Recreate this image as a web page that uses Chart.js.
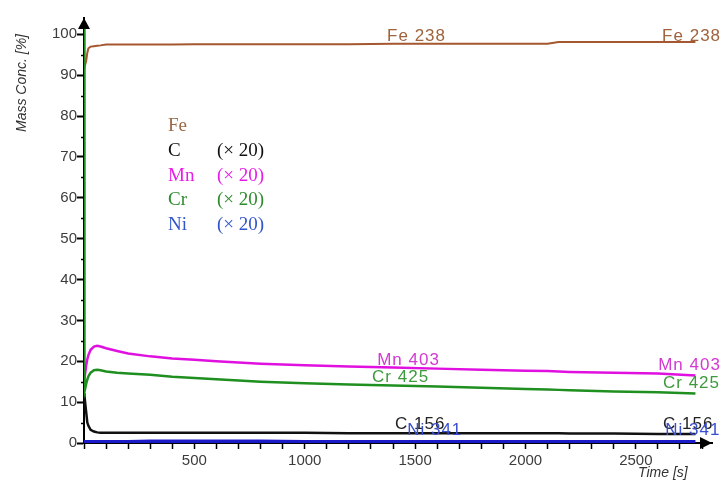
<!DOCTYPE html>
<html>
<head>
<meta charset="utf-8">
<script src="https://cdn.jsdelivr.net/npm/chart.js@4.4.1/dist/chart.umd.min.js"></script>
<style>
  html, body { margin: 0; padding: 0; background: #fff; }
  #wrap { width: 726px; height: 481px; }
</style>
</head>
<body>
<div id="wrap"><canvas id="depth_profile"></canvas></div>
<script>
// Sputter time [s]
const seconds = [0, 2, 5, 10, 15, 20, 30, 45, 60, 75, 100, 150, 200, 300, 400, 500, 600, 800, 1000, 1200, 1400, 1600, 1800, 2000, 2100, 2150, 2200, 2400, 2600, 2770]

// Mass concentration [%], C / Mn / Cr / Ni already multiplied by 20
const fe = [91.8, 92.0, 92.5, 93.5, 95.5, 96.6, 97.0, 97.1, 97.2, 97.3, 97.5, 97.5, 97.5, 97.5, 97.5, 97.6, 97.6, 97.6, 97.6, 97.6, 97.7, 97.7, 97.7, 97.7, 97.7, 98.1, 98.1, 98.1, 98.1, 98.1]
const c = [12.2, 11.5, 10.0, 7.5, 5.0, 4.2, 3.2, 2.8, 2.6, 2.5, 2.5, 2.5, 2.5, 2.5, 2.5, 2.5, 2.5, 2.5, 2.5, 2.4, 2.4, 2.4, 2.4, 2.4, 2.4, 2.4, 2.3, 2.3, 2.2, 2.2]
const mn = [14.8, 15.5, 17.0, 19.0, 20.5, 21.5, 22.8, 23.6, 23.8, 23.6, 23.2, 22.5, 21.9, 21.2, 20.7, 20.4, 20.0, 19.4, 19.0, 18.7, 18.5, 18.2, 17.9, 17.7, 17.6, 17.5, 17.4, 17.2, 17.0, 16.5]
const cr = [103, 12.5, 13.2, 14.5, 15.5, 16.3, 17.2, 17.8, 17.9, 17.8, 17.5, 17.2, 17.0, 16.7, 16.2, 15.9, 15.6, 15.0, 14.6, 14.3, 14.1, 13.8, 13.5, 13.2, 13.1, 13.0, 12.9, 12.6, 12.4, 12.1]
const ni = [0.3, 0.3, 0.3, 0.3, 0.3, 0.3, 0.3, 0.3, 0.3, 0.3, 0.3, 0.3, 0.3, 0.4, 0.4, 0.4, 0.4, 0.4, 0.3, 0.3, 0.3, 0.3, 0.3, 0.3, 0.3, 0.3, 0.3, 0.3, 0.3, 0.3]

const elements = ['Fe', 'C', 'Mn', 'Cr', 'Ni']
const factors = ['', '(× 20)', '(× 20)', '(× 20)', '(× 20)']
const lineNames = ['Fe 238', 'C 156', 'Mn 403', 'Cr 425', 'Ni 341']

const series = [fe, c, mn, cr, ni]
const lineColors = ['#a5572f', '#111111', '#e010e0', '#1f8f1f', '#1a1ac8']
const lineWidths = [2, 2.5, 2.5, 2.5, 3.5]
const legendColors = ['#9b6a45', '#111111', '#e81ce8', '#2e8b2e', '#3355cc']
const nameColors = ['#a0633d', '#222222', '#d23ad2', '#3d9a3d', '#3a4fd0']

// where each line name sits, in axis units (time, concentration of the text baseline)
const namePlaces = [
    [[1373, 98.4], [2619, 98.4]],
    [[1409, 3.4], [2623, 3.4]],
    [[1328, 19.1], [2601, 17.9]],
    [[1305, 14.9], [2623, 13.5]],
    [[1464, 2.0], [2633, 2.0]]
]

Chart.defaults.font.family = "'Liberation Sans', Arial, sans-serif"

const datasets = series.map((values, i) => ({
    label: elements[i],
    data: values.map((v, k) => ({ x: seconds[k], y: v })),
    borderColor: lineColors[i],
    borderWidth: lineWidths[i],
    pointRadius: 0,
    tension: 0,
    fill: false
}))
// first dataset is painted last, so Ni ends up on top of the time axis
datasets.reverse()

const decorations = {
    id: 'decorations',
    afterDraw(chart) {
        const { ctx, chartArea: area, scales } = chart
        const x = scales.x
        const y = scales.y
        ctx.save()

        // minor ticks on the concentration axis
        ctx.strokeStyle = '#000'
        ctx.lineWidth = 1.5
        for (let v = 5; v < 100; v += 10) {
            const py = Math.round(y.getPixelForValue(v)) + 0.5
            ctx.beginPath()
            ctx.moveTo(area.left - 3, py)
            ctx.lineTo(area.left, py)
            ctx.stroke()
        }

        // arrow heads
        ctx.fillStyle = '#000'
        ctx.beginPath()
        ctx.moveTo(area.left, area.top)
        ctx.lineTo(area.left - 6, area.top + 11)
        ctx.lineTo(area.left + 6, area.top + 11)
        ctx.closePath()
        ctx.fill()
        ctx.beginPath()
        ctx.moveTo(area.right, area.bottom)
        ctx.lineTo(area.right - 12, area.bottom - 6)
        ctx.lineTo(area.right - 12, area.bottom + 6)
        ctx.closePath()
        ctx.fill()

        // axis titles
        ctx.fillStyle = '#333'
        ctx.font = "italic 14px 'Liberation Sans', Arial, sans-serif"
        ctx.textAlign = 'center'
        ctx.textBaseline = 'middle'
        ctx.save()
        ctx.translate(22, 83)
        ctx.rotate(-Math.PI / 2)
        ctx.fillText('Mass Conc. [%]', 0, 0)
        ctx.restore()
        ctx.textAlign = 'left'
        ctx.fillText('Time [s]', 638, 473)

        // line names along the traces
        ctx.font = "17px 'Liberation Sans', Arial, sans-serif"
        ctx.letterSpacing = '1px'
        ctx.textBaseline = 'alphabetic'
        namePlaces.forEach((places, i) => {
            ctx.fillStyle = nameColors[i]
            places.forEach(([t, v]) => {
                ctx.fillText(lineNames[i], x.getPixelForValue(t), y.getPixelForValue(v))
            })
        })
        ctx.letterSpacing = '0px'

        // element key
        ctx.font = "19px 'Liberation Serif', 'Times New Roman', serif"
        elements.forEach((name, i) => {
            const base = 131 + i * 24.8
            ctx.fillStyle = legendColors[i]
            ctx.fillText(name, 168, base)
            ctx.fillText(factors[i], 217, base)
        })
        ctx.restore()
    }
}

new Chart(document.getElementById('depth_profile'), {
    type: 'line',
    data: { datasets },
    options: {
        responsive: true,
        maintainAspectRatio: false,
        animation: false,
        layout: { padding: { top: 18, right: 14, left: 0, bottom: 0 } },
        plugins: {
            legend: { display: false },
            tooltip: { enabled: false }
        },
        scales: {
            x: {
                type: 'linear',
                min: 0,
                max: 2845,
                afterFit: scale => { scale.height = 38 },
                border: { display: true, color: '#000', width: 2 },
                grid: { drawOnChartArea: false, drawTicks: true, tickLength: 6, tickColor: '#000', tickWidth: 1.5 },
                ticks: {
                    stepSize: 100,
                    includeBounds: false,
                    autoSkip: false,
                    maxRotation: 0,
                    minRotation: 0,
                    padding: 3,
                    color: '#3c3c3c',
                    font: { size: 15 },
                    callback: v => (v > 0 && v % 500 === 0 ? v : '')
                }
            },
            y: {
                min: 0,
                max: 104,
                afterFit: scale => { scale.width = 84 },
                border: { display: true, color: '#000', width: 2 },
                grid: { drawOnChartArea: false, drawTicks: true, tickLength: 7, tickColor: '#000', tickWidth: 2 },
                ticks: {
                    stepSize: 10,
                    includeBounds: false,
                    padding: 0,
                    color: '#3c3c3c',
                    font: { size: 15 }
                }
            }
        }
    },
    plugins: [decorations]
})
</script>
</body>
</html>
